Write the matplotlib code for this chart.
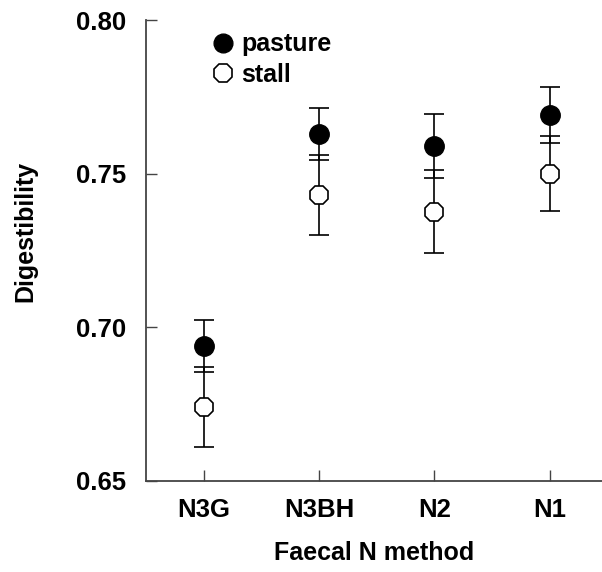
import matplotlib
matplotlib.use("Agg")
import matplotlib.pyplot as plt
from matplotlib.lines import Line2D
import numpy as np

categories = ["N3G", "N3BH", "N2", "N1"]
pasture = [0.694, 0.763, 0.759, 0.769]
pasture_err = [0.0085, 0.0085, 0.0103, 0.0091]
stall = [0.674, 0.743, 0.7376, 0.750]
stall_err = [0.013, 0.013, 0.0135, 0.0121]
yticks = [0.65, 0.70, 0.75, 0.80]

plt.rcParams['font.family'] = ['Liberation Sans', 'DejaVu Sans']
plt.rcParams['font.weight'] = 'bold'

fig = plt.figure(figsize=(6.02, 5.72), dpi=100)
ax = fig.add_axes([146/602, 1-481/572, 1-146/602, (481-20)/572])

x = np.arange(len(categories))
ax.errorbar(x, stall, yerr=stall_err, fmt='8', ms=14, mfc='white', mec='black', mew=1.2,
            ecolor='black', elinewidth=1.2, capsize=7, capthick=1.2, color='black', zorder=3)
ax.errorbar(x, pasture, yerr=pasture_err, fmt='o', ms=14, mfc='black', mec='black',
            ecolor='black', elinewidth=1.2, capsize=7, capthick=1.2, color='black', zorder=4)

ax.set_xlim(-0.5, 3.455)
ax.set_ylim(0.65, 0.80)
ax.set_xticks(x)
ax.set_xticklabels(categories)
ax.set_yticks(yticks)
ax.set_yticklabels([f"{v:.2f}" for v in yticks])
for s in ['top', 'right']:
    ax.spines[s].set_visible(False)
for s in ['left', 'bottom']:
    ax.spines[s].set_color('#444444')
    ax.spines[s].set_linewidth(1.3)
ax.tick_params(axis='both', direction='in', length=8, width=1.0, color='#444444', labelsize=18.5)
ax.tick_params(axis='x', pad=12)
ax.tick_params(axis='y', pad=14)

ax.set_xlabel("Faecal N method", fontsize=18, fontweight='bold', labelpad=14)
fig.text(25/602, 1-231/572, "Digestibility", rotation=90, fontsize=18, fontweight='bold',
         ha='center', va='center')

handles = [
    Line2D([], [], linestyle='none', marker='o', ms=13.5, mfc='black', mec='black'),
    Line2D([], [], linestyle='none', marker='8', ms=13.5, mfc='white', mec='black', mew=1.2),
]
leg = ax.legend(handles, ["pasture", "stall"], loc='upper left', bbox_to_anchor=(0.105, 0.995),
                frameon=False, fontsize=18, handletextpad=0.0, labelspacing=0.25, handlelength=1.5,
                borderaxespad=0)

fig.savefig("out.png", dpi=100)
